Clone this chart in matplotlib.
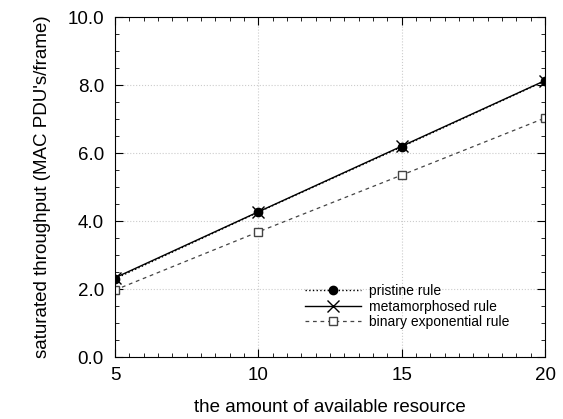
import numpy as np
import matplotlib.pyplot as plt
from matplotlib.ticker import MultipleLocator

plt.rcParams['font.family'] = ['Liberation Sans', 'DejaVu Sans']

resource = [5, 10, 15, 20]
pristine = [2.3, 4.26, 6.18, 8.12]
metamorph = [2.33, 4.27, 6.2, 8.13]
binary = [1.97, 3.68, 5.35, 7.03]

fig = plt.figure(figsize=(5.63, 4.19), dpi=100)
ax = fig.add_axes([115/563, 1-357/419, 430/563, 340/419])

ax.plot(resource, pristine, ':', color='black', marker='o', ms=6, lw=1, label='pristine rule')
ax.plot(resource, metamorph, '-', color='black', marker='x', ms=9, lw=1, label='metamorphosed rule')
ax.plot(resource, binary, '--', color='#444444', marker='s', ms=6, mfc='white', lw=0.9,
        dashes=(3, 3), label='binary exponential rule')

ax.set_xlim(5, 20)
ax.set_ylim(0, 10)
ax.set_xticks(resource)
ax.set_yticks(np.arange(0, 10.1, 2))
ax.set_yticklabels(['%.1f' % v for v in np.arange(0, 10.1, 2)])
ax.xaxis.set_minor_locator(MultipleLocator(0.5))
ax.yaxis.set_minor_locator(MultipleLocator(0.5))
ax.tick_params(which='both', direction='in', top=True, right=True, labelsize=13.5)
ax.tick_params(which='major', length=6)
ax.tick_params(which='minor', length=3)
ax.tick_params(axis='x', pad=7)
ax.tick_params(axis='y', pad=8)
ax.grid(True, which='major', ls=':', color='#cccccc', lw=0.8)

ax.set_xlabel('the amount of available resource', fontsize=13.5, labelpad=11)
ax.set_ylabel("saturated throughput (MAC PDU's/frame)", fontsize=13.5, labelpad=12)

ax.legend(loc='upper left', frameon=False, fontsize=10, bbox_to_anchor=(0.442, 0.215),
          borderpad=0, borderaxespad=0,
          handlelength=4, handletextpad=0.6, labelspacing=0.12)

fig.savefig('out.png', dpi=100)
